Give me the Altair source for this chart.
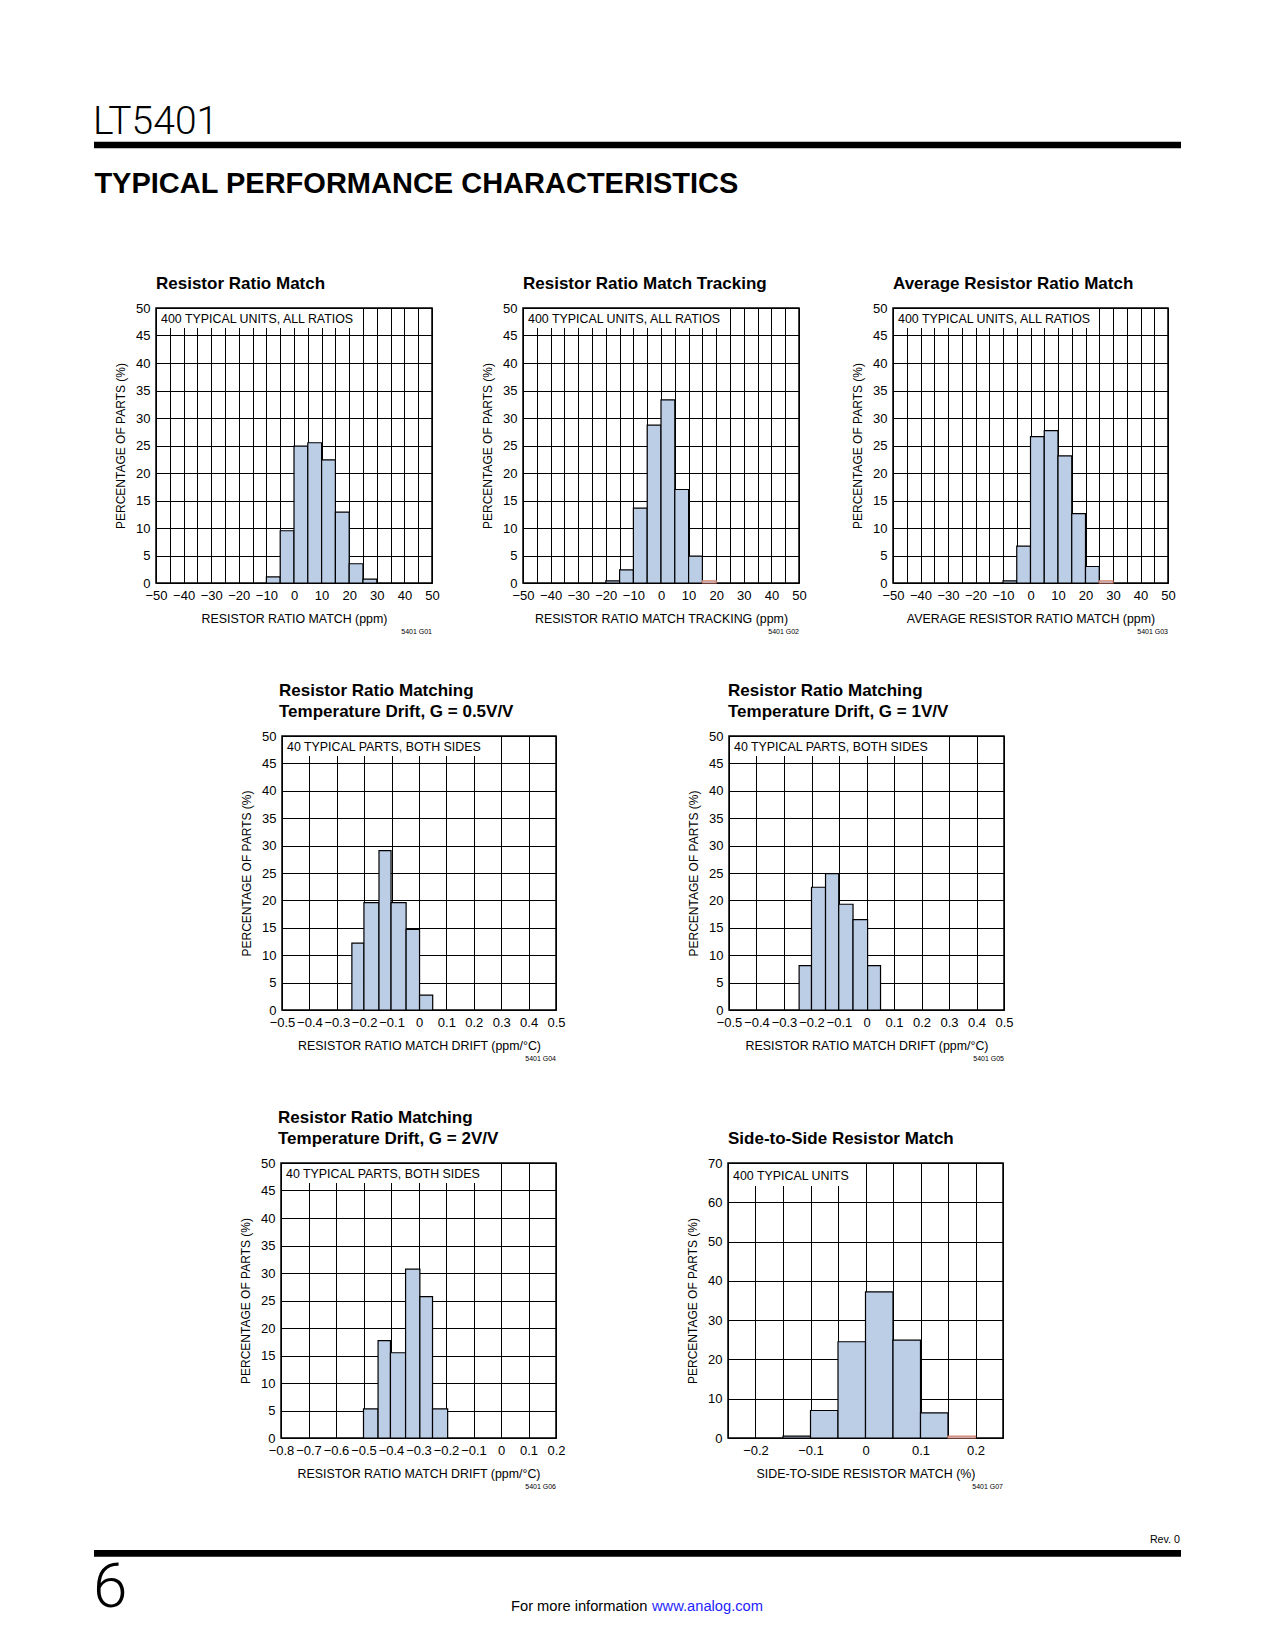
import altair as alt
import pandas as pd

# ---------------- text content ----------------
PART = "LT5401"
SECTION = "TYPICAL PERFORMANCE CHARACTERISTICS"
PAGE_NO = "6"
REV = "Rev. 0"
FOOT_TEXT = "For more information"
FOOT_LINK = "www.analog.com"
Y_TITLE = "PERCENTAGE OF PARTS (%)"

# ---------------- tick lists ----------------
ppm_ticks = [-50, -45, -40, -35, -30, -25, -20, -15, -10, -5, 0, 5, 10, 15, 20, 25, 30, 35, 40, 45, 50]
drift_ticks_a = [-0.5, -0.4, -0.3, -0.2, -0.1, 0, 0.1, 0.2, 0.3, 0.4, 0.5]
drift_ticks_b = [-0.8, -0.7, -0.6, -0.5, -0.4, -0.3, -0.2, -0.1, 0, 0.1, 0.2]
s2s_ticks = [-0.25, -0.2, -0.15, -0.1, -0.05, 0, 0.05, 0.1, 0.15, 0.2, 0.25]
pct50_ticks = [0, 5, 10, 15, 20, 25, 30, 35, 40, 45, 50]
pct70_ticks = [0, 10, 20, 30, 40, 50, 60, 70]

# ---------------- G01 Resistor Ratio Match ----------------
g1_lo = [-10, -5, 0, 5, 10, 15, 20, 25]
g1_hi = [-5, 0, 5, 10, 15, 20, 25, 30]
g1_pct = [1.1, 9.5, 24.9, 25.5, 22.4, 12.9, 3.5, 0.7]
g1_edge = ["k", "k", "k", "k", "k", "k", "k", "k"]

# ---------------- G02 Resistor Ratio Match Tracking ----------------
g2_lo = [-20, -15, -10, -5, 0, 5, 10, 15]
g2_hi = [-15, -10, -5, 0, 5, 10, 15, 20]
g2_pct = [0.4, 2.4, 13.6, 28.7, 33.3, 17.0, 4.9, 0.4]
g2_edge = ["k", "k", "k", "k", "k", "k", "k", "r"]

# ---------------- G03 Average Resistor Ratio Match ----------------
g3_lo = [-10, -5, 0, 5, 10, 15, 20, 25]
g3_hi = [-5, 0, 5, 10, 15, 20, 25, 30]
g3_pct = [0.4, 6.7, 26.6, 27.7, 23.1, 12.6, 3.0, 0.4]
g3_edge = ["k", "k", "k", "k", "k", "k", "k", "r"]

# ---------------- G04 Drift, G = 0.5V/V ----------------
g4_lo = [-0.245, -0.201, -0.146, -0.102, -0.047, 0.002]
g4_hi = [-0.201, -0.146, -0.102, -0.047, 0.002, 0.050]
g4_pct = [12.2, 19.6, 29.1, 19.6, 14.7, 2.7]
g4_edge = ["k", "k", "k", "k", "k", "k"]

# ---------------- G05 Drift, G = 1V/V ----------------
g5_lo = [-0.245, -0.200, -0.149, -0.101, -0.049, 0.004]
g5_hi = [-0.200, -0.149, -0.101, -0.049, 0.004, 0.051]
g5_pct = [8.1, 22.4, 24.9, 19.3, 16.5, 8.1]
g5_edge = ["k", "k", "k", "k", "k", "k"]

# ---------------- G06 Drift, G = 2V/V ----------------
g6_lo = [-0.500, -0.447, -0.402, -0.347, -0.295, -0.249]
g6_hi = [-0.447, -0.402, -0.347, -0.295, -0.249, -0.194]
g6_pct = [5.3, 17.7, 15.5, 30.7, 25.7, 5.3]
g6_edge = ["k", "k", "k", "k", "k", "k"]

# ---------------- G07 Side-to-Side Resistor Match ----------------
g7_lo = [-0.15, -0.10, -0.05, 0.0, 0.05, 0.10, 0.15]
g7_hi = [-0.10, -0.05, 0.0, 0.05, 0.10, 0.15, 0.20]
g7_pct = [0.5, 7.0, 24.5, 37.2, 24.9, 6.4, 0.5]
g7_edge = ["k", "k", "k", "k", "k", "k", "r"]

# ---------------- styling ----------------
INK = "#000000"
BAR = "#bccde6"
EDGE_RED = "#d9826b"
FONT = "Liberation Sans"
LIGHT = "Roboto"

PPM_EXPR = "round(datum.value) % 10 == 0 ? format(datum.value, 'd') : ''"
S2S_EXPR = "abs(round(datum.value * 100)) % 10 == 0 ? format(datum.value, '~g') : ''"

panels = [
    dict(lo=g1_lo, hi=g1_hi, pct=g1_pct, edge=g1_edge, xdom=[-50, 50], xticks=ppm_ticks, xexpr=PPM_EXPR,
         ydom=[0, 50], yticks=pct50_ticks, xtitle="RESISTOR RATIO MATCH (ppm)",
         title=["Resistor Ratio Match"], tdx=0, note="400 TYPICAL UNITS, ALL RATIOS",
         box_w=201, box_h=20, note_y=14.5, fid="5401 G01", w=276, h=275),
    dict(lo=g2_lo, hi=g2_hi, pct=g2_pct, edge=g2_edge, xdom=[-50, 50], xticks=ppm_ticks, xexpr=PPM_EXPR,
         ydom=[0, 50], yticks=pct50_ticks, xtitle="RESISTOR RATIO MATCH TRACKING (ppm)",
         title=["Resistor Ratio Match Tracking"], tdx=0, note="400 TYPICAL UNITS, ALL RATIOS",
         box_w=201, box_h=20, note_y=14.5, fid="5401 G02", w=276, h=275),
    dict(lo=g3_lo, hi=g3_hi, pct=g3_pct, edge=g3_edge, xdom=[-50, 50], xticks=ppm_ticks, xexpr=PPM_EXPR,
         ydom=[0, 50], yticks=pct50_ticks, xtitle="AVERAGE RESISTOR RATIO MATCH (ppm)",
         title=["Average Resistor Ratio Match"], tdx=0, note="400 TYPICAL UNITS, ALL RATIOS",
         box_w=201, box_h=20, note_y=14.5, fid="5401 G03", w=275, h=275),
    dict(lo=g4_lo, hi=g4_hi, pct=g4_pct, edge=g4_edge, xdom=[-0.5, 0.5], xticks=drift_ticks_a, xfmt="~g",
         ydom=[0, 50], yticks=pct50_ticks, xtitle="RESISTOR RATIO MATCH DRIFT (ppm/°C)",
         title=["Resistor Ratio Matching", "Temperature Drift, G = 0.5V/V"], tdx=-3,
         note="40 TYPICAL PARTS, BOTH SIDES", box_w=207, box_h=20, note_y=14.5,
         fid="5401 G04", w=274, h=274),
    dict(lo=g5_lo, hi=g5_hi, pct=g5_pct, edge=g5_edge, xdom=[-0.5, 0.5], xticks=drift_ticks_a, xfmt="~g",
         ydom=[0, 50], yticks=pct50_ticks, xtitle="RESISTOR RATIO MATCH DRIFT (ppm/°C)",
         title=["Resistor Ratio Matching", "Temperature Drift, G = 1V/V"], tdx=-1,
         note="40 TYPICAL PARTS, BOTH SIDES", box_w=207, box_h=20, note_y=14.5,
         fid="5401 G05", w=275, h=274),
    dict(lo=g6_lo, hi=g6_hi, pct=g6_pct, edge=g6_edge, xdom=[-0.8, 0.2], xticks=drift_ticks_b, xfmt="~g",
         ydom=[0, 50], yticks=pct50_ticks, xtitle="RESISTOR RATIO MATCH DRIFT (ppm/°C)",
         title=["Resistor Ratio Matching", "Temperature Drift, G = 2V/V"], tdx=-3,
         note="40 TYPICAL PARTS, BOTH SIDES", box_w=207, box_h=20, note_y=14.5,
         fid="5401 G06", w=275, h=275),
    dict(lo=g7_lo, hi=g7_hi, pct=g7_pct, edge=g7_edge, xdom=[-0.25, 0.25], xticks=s2s_ticks, xexpr=S2S_EXPR,
         ydom=[0, 70], yticks=pct70_ticks, xtitle="SIDE-TO-SIDE RESISTOR MATCH (%)",
         title=["Side-to-Side Resistor Match"], tdx=0, note="400 TYPICAL UNITS",
         box_w=128, box_h=23, note_y=17, fid="5401 G07", w=275, h=275),
]

NOVIEW = alt.ViewBackground(stroke="transparent", strokeWidth=0)


def one(v):
    return pd.DataFrame({"t": [v]})


def make_panel(p):
    df = pd.DataFrame({"lo": p["lo"], "hi": p["hi"], "pct": p["pct"], "edge": p["edge"]})
    xax = dict(values=p["xticks"], title=p["xtitle"], grid=True, ticks=False, tickSize=0,
               domain=False, labelPadding=6, labelFont=FONT, labelFontSize=13, labelColor=INK,
               labelOverlap=False, labelFlush=False, titleFont=FONT, titleFontSize=12.4,
               titleFontWeight="normal", titleColor=INK, titleY=39, titleBaseline="alphabetic",
               gridColor=INK, gridWidth=1, gridOpacity=1)
    if "xexpr" in p:
        xax["labelExpr"] = p["xexpr"]
    else:
        xax["format"] = p["xfmt"]
    yax = dict(values=p["yticks"], title=Y_TITLE, grid=True, ticks=False, tickSize=0,
               domain=False, labelPadding=6, labelFont=FONT, labelFontSize=13, labelColor=INK,
               labelOverlap=False, labelFlush=False, format="d", titleFont=FONT,
               titleFontSize=12, titleFontWeight="normal", titleColor=INK, titleX=-36,
               titleAngle=270, titleAlign="center", titleBaseline="middle",
               gridColor=INK, gridWidth=1, gridOpacity=1)
    bars = alt.Chart(df).mark_rect(fill=BAR, strokeWidth=1.2).encode(
        x=alt.X("lo:Q", scale=alt.Scale(domain=p["xdom"], nice=False, zero=False), axis=alt.Axis(**xax)),
        x2="hi:Q",
        y=alt.Y("pct:Q", scale=alt.Scale(domain=p["ydom"], nice=False, zero=False), axis=alt.Axis(**yax)),
        y2=alt.datum(0),
        stroke=alt.Stroke("edge:N", scale=alt.Scale(domain=["k", "r"], range=[INK, EDGE_RED]), legend=None),
    )
    box = alt.Chart(one(0)).mark_rect(fill="white").encode(
        x=alt.value(1), x2=alt.value(p["box_w"]), y=alt.value(1), y2=alt.value(p["box_h"]))
    note = alt.Chart(one(p["note"])).mark_text(
        align="left", baseline="alphabetic", font=FONT, fontSize=12.4, color=INK).encode(
        x=alt.value(5), y=alt.value(p["note_y"]), text="t:N")
    ty = -40 if len(p["title"]) == 2 else -19
    title = alt.Chart(one(0)).mark_text(
        text=p["title"], align="left", baseline="alphabetic", font=FONT, fontWeight="bold",
        fontSize=17, lineHeight=20.5, color=INK).encode(x=alt.value(p["tdx"]), y=alt.value(ty))
    fid = alt.Chart(one(p["fid"])).mark_text(
        align="right", baseline="alphabetic", font=FONT, fontSize=7, color=INK).encode(
        x=alt.value(p["w"]), y=alt.value(p["h"] + 51), text="t:N")
    return alt.layer(bars, box, note, title, fid).properties(
        width=p["w"], height=p["h"], view=alt.ViewBackground(stroke=INK, strokeWidth=1.5))


def spacer(w, h, top=0, bottom=None):
    # invisible cell; its transparent rect fixes the row's layout extent
    b = h if bottom is None else bottom
    return alt.Chart(one(0)).mark_rect(fill="white", opacity=0).encode(
        x=alt.value(0), x2=alt.value(1), y=alt.value(-top), y2=alt.value(b)).properties(
        width=w, height=h, view=NOVIEW)


PAGE_W = 1107

header = alt.layer(
    alt.Chart(one(PART)).mark_text(align="left", baseline="alphabetic", font=LIGHT, fontWeight=300,
                                   fontSize=39, color=INK).encode(
        x=alt.value(9), y=alt.value(44), text="t:N"),
    alt.Chart(one(0)).mark_rect(fill=INK).encode(
        x=alt.value(10), x2=alt.value(1097), y=alt.value(51.7), y2=alt.value(58.3)),
    alt.Chart(one(SECTION)).mark_text(align="left", baseline="alphabetic", font=FONT, fontWeight="bold",
                                      fontSize=29, color=INK).encode(
        x=alt.value(10.4), y=alt.value(103.3), text="t:N"),
).properties(width=PAGE_W, height=158, view=NOVIEW)

footer = alt.layer(
    alt.Chart(one(REV)).mark_text(align="right", baseline="alphabetic", font=FONT, fontSize=10.7,
                                  color=INK).encode(x=alt.value(1096), y=alt.value(35), text="t:N"),
    alt.Chart(one(0)).mark_rect(fill=INK).encode(
        x=alt.value(10), x2=alt.value(1097), y=alt.value(42), y2=alt.value(48.7)),
    alt.Chart(one(PAGE_NO)).mark_text(align="left", baseline="alphabetic", font=LIGHT, fontWeight=300,
                                      fontSize=62, color=INK).encode(
        x=alt.value(9), y=alt.value(99.3), text="t:N"),
    alt.Chart(one(FOOT_TEXT)).mark_text(align="left", baseline="alphabetic", font=FONT, fontSize=14.7,
                                        color=INK).encode(x=alt.value(427), y=alt.value(103), text="t:N"),
    alt.Chart(one(FOOT_LINK)).mark_text(align="left", baseline="alphabetic", font=FONT, fontSize=14.7,
                                        color="#1f1fff").encode(x=alt.value(568), y=alt.value(103), text="t:N"),
).properties(width=PAGE_W, height=110, view=NOVIEW)

P = [make_panel(p) for p in panels]

row1 = alt.hconcat(spacer(72, 275, 60, 345), P[0], spacer(91, 275), P[1], spacer(94, 275), P[2],
                   spacing=0, bounds="flush")
row2 = alt.hconcat(spacer(198, 274, 83, 344), P[3], spacer(173, 274), P[4],
                   spacing=0, bounds="flush")
row3 = alt.hconcat(spacer(197, 275, 83, 345), P[5], spacer(172, 275), P[6],
                   spacing=0, bounds="flush")

chart = alt.vconcat(
    header, row1, row2, row3, footer, spacing=0,
    padding={"left": 76, "top": 82, "right": 5, "bottom": 5}, background="white",
).configure_view(stroke="transparent", strokeWidth=0)

chart.save("out.html", embed_options={"renderer": "svg", "actions": False})
